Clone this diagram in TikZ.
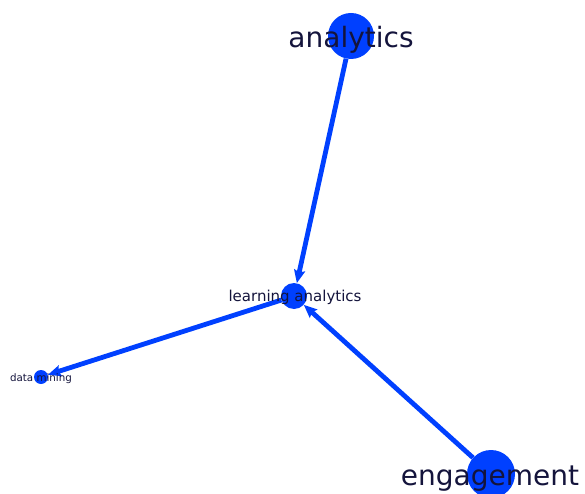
\documentclass[tikz,border=0pt]{standalone}
\usepackage{fontspec}
\setmainfont{DejaVu Sans}
\usepackage{xcolor}
\usetikzlibrary{arrows.meta}

\definecolor{nodeblue}{RGB}{0,64,255}
\definecolor{labelnavy}{RGB}{20,20,60}

\begin{document}
\begin{tikzpicture}[x=1pt,y=-1pt,
    term/.style={circle, fill=nodeblue, inner sep=0pt},
    termtext/.style={text=labelnavy, inner sep=0pt},
    link/.style={draw=nodeblue, line width=4.8pt, -{Stealth[length=13pt,width=11pt,inset=2pt]}}]
        \useasboundingbox (0,0) rectangle (585,494);

        \node[term, minimum size=46pt] (an) at (351,36) {};
        \node[term, minimum size=26pt] (la) at (294,296) {};
        \node[term, minimum size=14pt] (dm) at (41,377) {};
        \node[term, minimum size=48pt] (en) at (491,474) {};

        \draw[link] (an) -- (la);
        \draw[link] (en) -- (la);
        \draw[link] (la) -- (dm);

        \node[termtext, font=\fontsize{28}{30}\selectfont] (an-t) at (351,40) {analytics};
        \node[termtext, font=\fontsize{15}{17}\selectfont] (la-t) at (295,297) {learning analytics};
        \node[termtext, font=\fontsize{10.3}{12}\selectfont] (dm-t) at (41,379) {data mining};
        \node[termtext, font=\fontsize{28}{30}\selectfont] (en-t) at (490,479) {engagement};
    \end{tikzpicture}
\end{document}
